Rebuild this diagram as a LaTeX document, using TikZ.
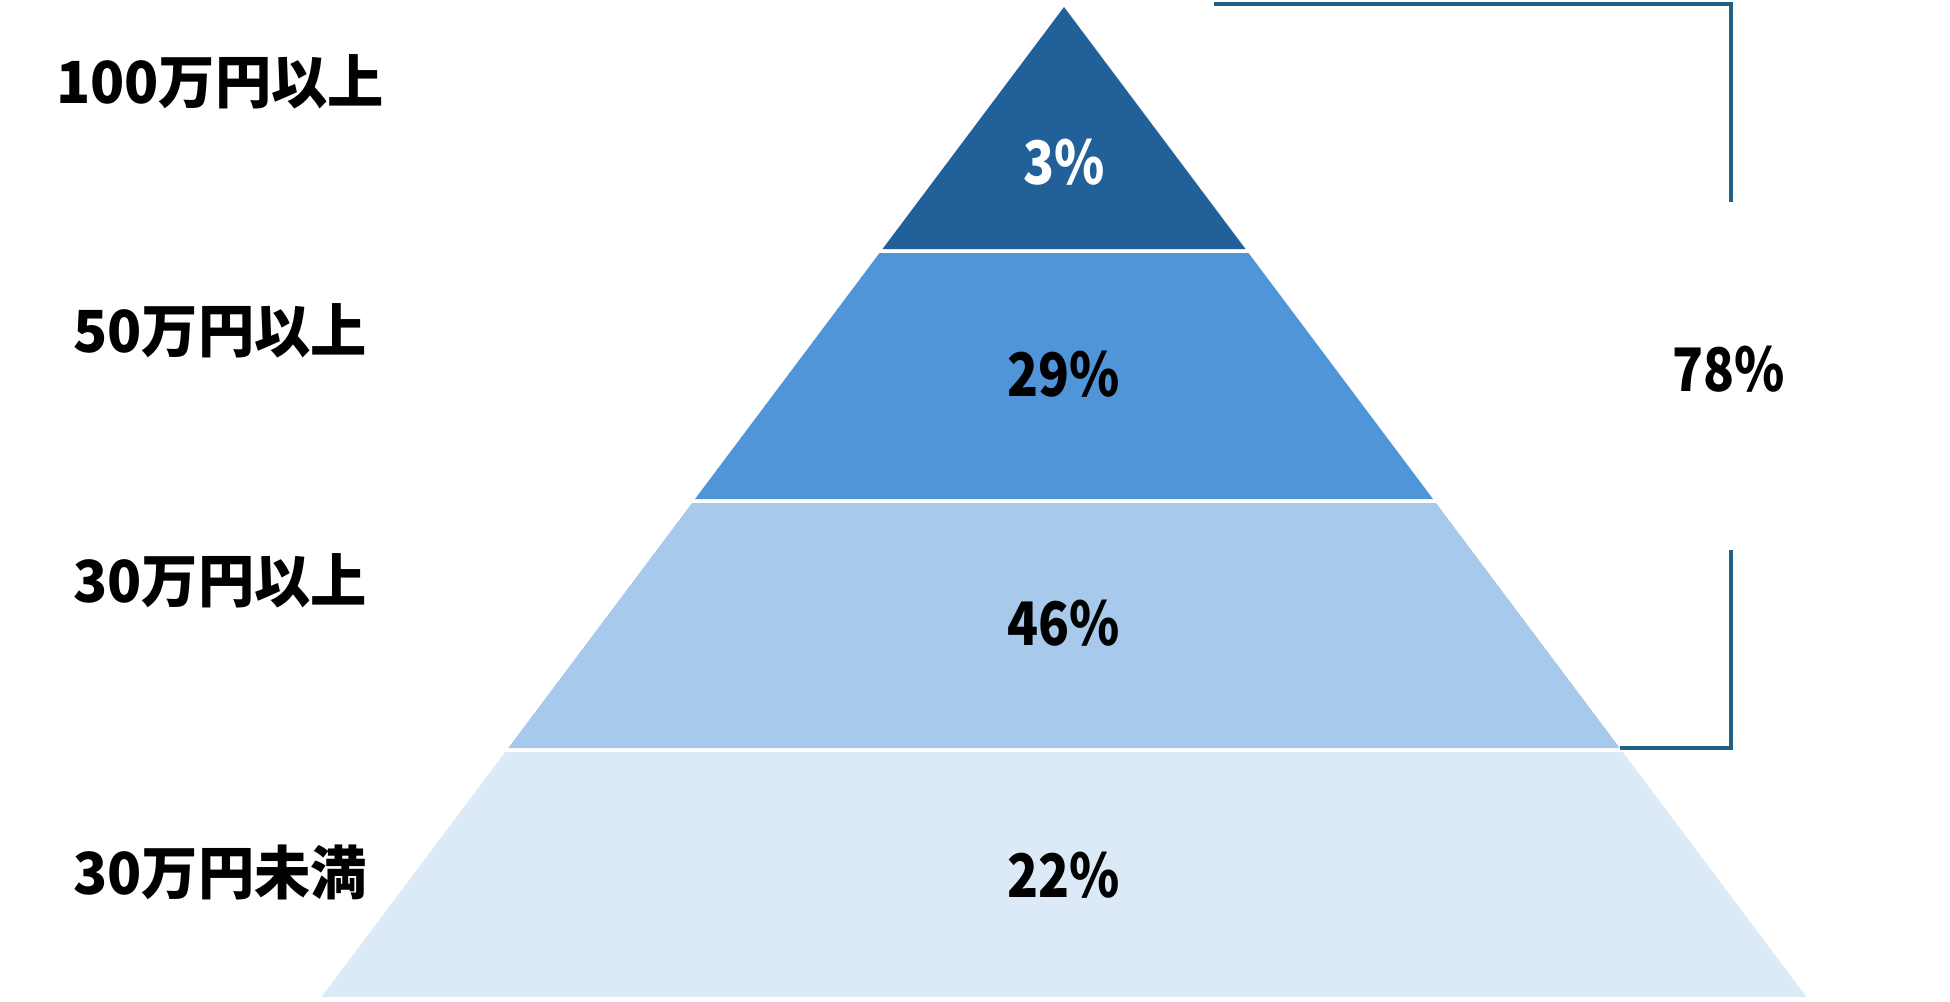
\documentclass[tikz,border=0pt]{standalone}
\usepackage{fontspec}
\newfontfamily\jp{Noto Sans CJK JP}[FakeStretch=0.97]
\newfontfamily\jpn{Noto Sans CJK JP}[FakeStretch=0.85]
\definecolor{lay1}{HTML}{22609A}
\definecolor{lay2}{HTML}{5095D7}
\definecolor{lay3}{HTML}{A7CAEC}
\definecolor{lay4}{HTML}{DCE9F6}
\definecolor{brk}{HTML}{1F6087}
\begin{document}
\begin{tikzpicture}[x=1pt,y=-1pt,
  lab/.style={font=\jp\bfseries\fontsize{58}{58}\selectfont, text=black, inner sep=0pt, anchor=center},
  pct/.style={font=\jpn\bfseries\fontsize{60}{60}\selectfont, text=black, inner sep=0pt, anchor=center},
  bracket/.style={draw=brk, line width=4pt}]
\useasboundingbox (0,0) rectangle (1950,1001);
% layers
\fill[lay1] (1064,7) -- (1245.5,249) -- (882.5,249) -- cycle;
\fill[lay2] (879.5,253) -- (1248.5,253) -- (1433,499) -- (695,499) -- cycle;
\fill[lay3] (692,503) -- (1436,503) -- (1619.75,748) -- (508.25,748) -- cycle;
\fill[lay4] (505.25,752) -- (1622.75,752) -- (1806.5,997) -- (321.5,997) -- cycle;
% percentages
\node[pct, text=white] (p1) at (1064,162) {3\%};
\node[pct] (p2) at (1064,374) {29\%};
\node[pct] (p3) at (1064,623) {46\%};
\node[pct] (p4) at (1064,875) {22\%};
% labels
\node[lab] (l1) at (220,82) {100万円以上};
\node[lab] (l2) at (220,331) {50万円以上};
\node[lab] (l3) at (220,581) {30万円以上};
\node[lab] (l4) at (220,872) {30万円未満};
% bracket
\coordinate (b1) at (1214,3.5);
\coordinate (b2) at (1731,3.5);
\coordinate (b3) at (1731,202);
\coordinate (b4) at (1731,550);
\coordinate (b5) at (1731,748);
\coordinate (b6) at (1620,748);
\draw[bracket] (b1) -- (b2) -- (b3);
\draw[bracket] (b4) -- (b5) -- (b6);
\node[pct] (tot) at (1729,369) {78\%};
\end{tikzpicture}
\end{document}
